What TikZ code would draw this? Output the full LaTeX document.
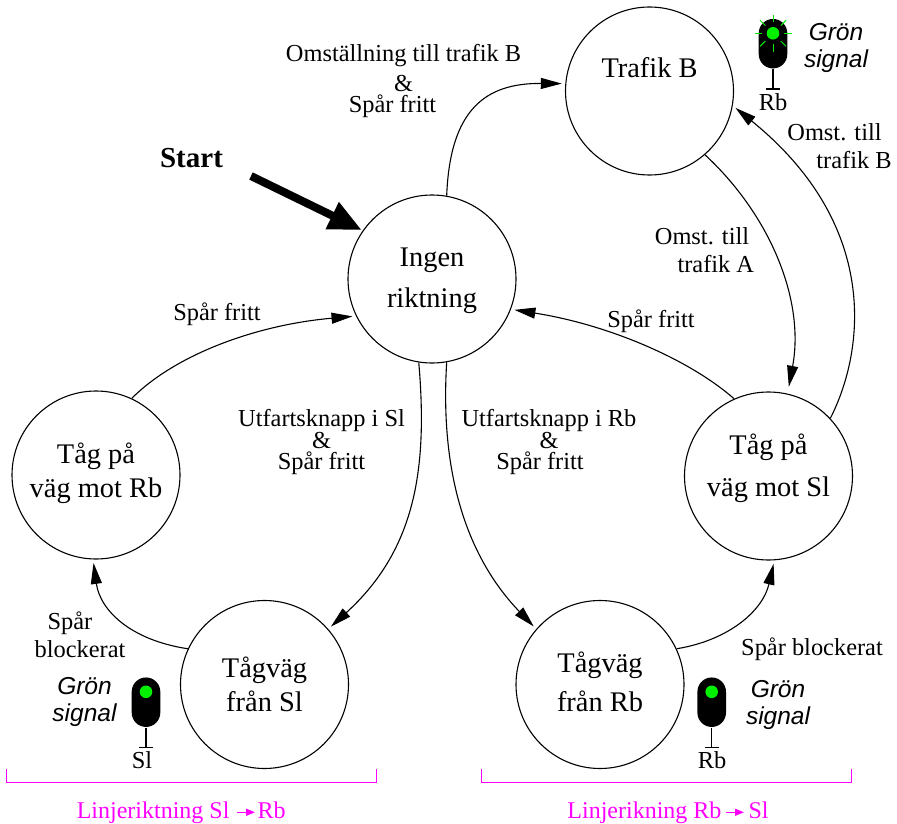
\documentclass[tikz,border=0pt]{standalone}
\usepackage{fontspec}
\setmainfont{Liberation Serif}
\newfontfamily\signalfont{Liberation Sans}
\usetikzlibrary{arrows.meta}
\definecolor{gron}{HTML}{00F000}
\definecolor{linje}{HTML}{FF00FF}
\tikzset{every picture/.style={line width=1.1pt}}
\tikzset{
  tillstand/.style={draw,circle,minimum size=168pt,inner sep=0pt,align=center,font=\fontsize{28.4}{34}\selectfont},
  overgang/.style={-{Triangle[length=21pt,width=11pt]},shorten >=3.5pt},
  villkor/.style={inner sep=0pt,align=center,font=\fontsize{24.4}{21}\selectfont},
  villkorrad/.style={villkor,font=\fontsize{24.4}{28}\selectfont},
  gronsignal/.style={inner sep=0pt,align=center,font=\fontsize{24.5}{27}\signalfont\itshape\selectfont},
  hus/.style={fill=black,rounded corners=14.3pt,minimum width=28.6pt,minimum height=49.5pt,inner sep=0pt},
  lampa/.style={fill=gron,circle,minimum size=12.6pt,inner sep=0pt},
  linjetext/.style={inner sep=0pt,text=linje,font=\fontsize{24}{28}\selectfont},
}

\begin{document}
\begin{tikzpicture}[x=1pt,y=-1pt]
    \useasboundingbox (0,0) rectangle (897,824);

    \node[tillstand] (ingen) at (432,279) {Ingen\\[7pt]riktning\\[-32pt]\mbox{}};
    \node[tillstand] (trafikb) at (649.5,91) {Trafik B\\[12pt]\mbox{}};
    \node[tillstand] (motrb) at (96,475) {Tåg på\\[0pt]väg mot Rb\\[-24pt]\mbox{}};
    \node[tillstand] (motsl) at (768.5,476) {Tåg på\\[8pt]väg mot Sl\\[-12pt]\mbox{}};
    \node[tillstand] (fransl) at (264.5,684.5) {Tågväg\\[0pt]från Sl};
    \node[tillstand] (franrb) at (600,684.5) {Tågväg\\[5pt]från Rb\\[-28pt]\mbox{}};

    \draw[overgang] (ingen.80) .. controls (450,110) and (485,83) .. (trafikb.175);
    \draw[overgang,shorten >=7pt] (trafikb.-49) .. controls (770,215) and (805,300) .. (motsl.77);
    \draw[overgang] (motsl.43) .. controls (865,350) and (880,225) .. (trafikb.-10);
    \draw[overgang] (motsl.114) .. controls (690,360) and (610,325) .. (ingen.-21);
    \draw[overgang] (motrb.65) .. controls (175,355) and (255,325) .. (ingen.206);
    \draw[overgang] (ingen.-99) .. controls (428,470) and (415,550) .. (fransl.41);
    \draw[overgang] (ingen.-80) .. controls (440,470) and (465,555) .. (franrb.139);
    \draw[overgang] (fransl.155) .. controls (130,640) and (100,610) .. (motrb.-92);
    \draw[overgang] (franrb.25) .. controls (730,640) and (763,610) .. (motsl.-86);

    \coordinate (startpunkt) at (251,176);
    \node[inner sep=0pt,font=\fontsize{29}{34}\selectfont\bfseries] (starttext) at (191.5,158) {Start};
    \draw[line width=8pt,-{Triangle[length=33pt,width=28pt]},shorten >=1pt] (startpunkt) -- (ingen.145);

    \node[villkor] (omsttext) at (403.5,81) {Omställning till trafik B\\[7pt]\&\hspace*{22pt}\\Spår fritt\hspace*{22pt}};
    \node[villkor] (fritttext1) at (217,314) {Spår fritt};
    \node[villkor] (fritttext2) at (651,321) {Spår fritt};
    \node[villkor] (utfartsl) at (321.5,442) {Utfartsknapp i Sl\\\&\\Spår fritt};
    \node[villkor] (utfartrb) at (549,442) {Utfartsknapp i Rb\\\&\hspace*{18pt}\\Spår fritt\hspace*{18pt}};
    \node[villkorrad,align=right] (omsta) at (704.5,250) {Omst. till\hspace*{5pt}\\trafik A};
    \node[villkorrad,align=right] (omstb) at (839.5,146) {Omst. till\hspace*{10pt}\\trafik B};
    \node[villkorrad,align=left] (blocksl) at (80,635) {\hspace*{13pt}Spår\\blockerat};
    \node[villkor] (blockrb) at (812,649) {Spår blockerat};

    \foreach \sname/\sx/\sy/\stext/\stx in {sigb/773/19/Rb/773,sigsl/146/677.5/Sl/142,sigrb/711.7/677.5/Rb/712}{
        \node[hus] (\sname) at (\sx,\sy+24.7) {};
        \node[lampa] (lampa\sname) at (\sx,\sy+14.3) {};
        \coordinate (fot\sname) at (\sx,\sy+70);
        \draw (\sname.south) -- (fot\sname);
        \draw ([xshift=-7pt]fot\sname) -- ([xshift=7pt]fot\sname);
        \node[inner sep=0pt,font=\fontsize{24.4}{28}\selectfont] (text\sname) at (\stx,\sy+83) {\stext};
    }
    \foreach \ang in {0,45,...,315}
        \draw[gron,line width=1pt] ([shift={(\ang:11)}]lampasigb.center) -- ([shift={(\ang:18.5)}]lampasigb.center);

    \node[gronsignal] (gronb) at (836,47.5) {Grön\\signal};
    \node[gronsignal] (gronsl) at (84.5,702) {Grön\\signal};
    \node[gronsignal] (gronrb) at (778,704.5) {Grön\\signal};

    \draw[linje] (6.3,769) -- (6.3,782.7) -- (376.7,782.7) -- (376.7,769);
    \draw[linje] (481.3,769) -- (481.3,782.7) -- (851.3,782.7) -- (851.3,769);
    \node[linjetext,anchor=base east] (linjesl) at (230,818) {Linjeriktning Sl};
    \node[linjetext,anchor=base west] (linjerb) at (257,818) {Rb};
    \draw[linje,line width=1.5pt,-{Triangle[length=9pt,width=7pt]},shorten <=7pt,shorten >=2pt] (linjesl.east) -- (linjerb.west |- linjesl.east);
    \node[linjetext,anchor=base east] (riktrb) at (722,818) {Linjerikning Rb};
    \node[linjetext,anchor=base west] (riktsl) at (748,818) {Sl};
    \draw[linje,line width=1.5pt,-{Triangle[length=9pt,width=7pt]},shorten <=4pt,shorten >=4pt] (riktrb.east) -- (riktsl.west |- riktrb.east);
\end{tikzpicture}
\end{document}
